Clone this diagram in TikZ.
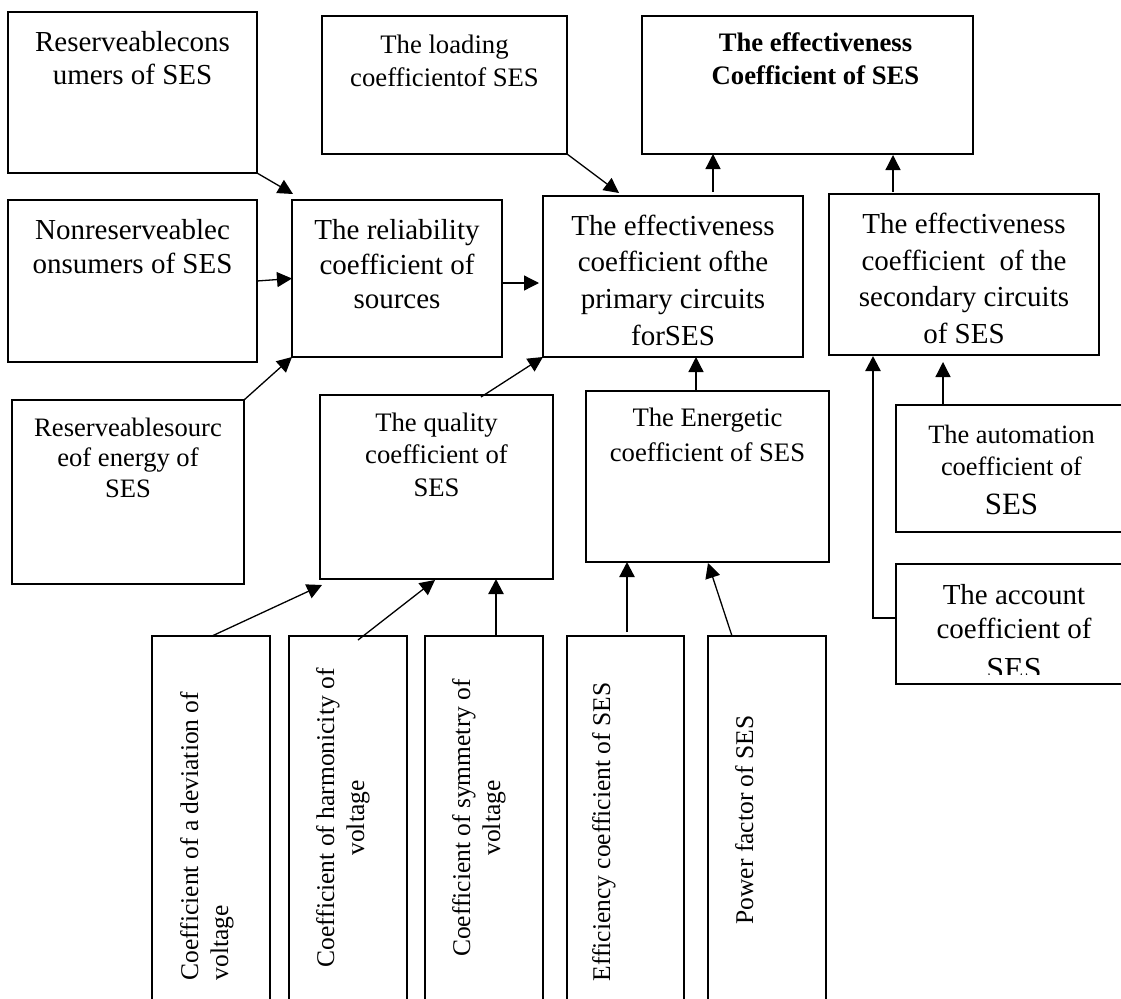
\documentclass[tikz,border=0pt]{standalone}
\usepackage{fontspec}
\setmainfont{Liberation Serif}
\usetikzlibrary{arrows.meta,calc}
\pgfdeclarelayer{edgelayer}
\pgfdeclarelayer{nodelayer}
\pgfsetlayers{edgelayer,nodelayer,main}
\tikzstyle{blk}=[draw=black, line width=1.7pt, anchor=north west, inner sep=0pt, outer sep=0pt]
\tikzstyle{lbl}=[anchor=north, inner sep=0pt, align=center]
\tikzstyle{vlbl}=[anchor=north, inner sep=0pt, rotate=90, font=\fontsize{25.5}{30}\selectfont]
\tikzstyle{link}=[draw=black, line width=1.3pt, -{Triangle[length=15pt,width=15pt]}]
\tikzstyle{boldlink}=[link, line width=2.3pt]

\begin{document}
\begin{tikzpicture}[x=1pt, y=-1pt]
				\useasboundingbox (0,0) rectangle (1121,998);
				\begin{pgfonlayer}{nodelayer}
					\node [blk, minimum width=249pt, minimum height=161pt] (rc) at (8,12) {};
					\node [blk, minimum width=245pt, minimum height=138pt] (load) at (322,16) {};
					\node [blk, minimum width=331pt, minimum height=138pt] (top) at (642,16) {};
					\node [blk, minimum width=249pt, minimum height=162pt] (nrc) at (8,200) {};
					\node [blk, minimum width=210pt, minimum height=157pt] (rel) at (292,200) {};
					\node [blk, minimum width=260pt, minimum height=161pt] (prim) at (543,196) {};
					\node [blk, minimum width=270pt, minimum height=161pt] (sec) at (829,194) {};
					\node [blk, minimum width=232pt, minimum height=184pt] (rs) at (12,400) {};
					\node [blk, minimum width=233pt, minimum height=184pt] (qual) at (320,395) {};
					\node [blk, minimum width=243pt, minimum height=171pt] (ener) at (586,391) {};
					\node [blk, minimum width=231pt, minimum height=127pt] (auto) at (896,405) {};
					\node [blk, minimum width=236pt, minimum height=120pt] (acc) at (896,564) {};
					\node [blk, minimum width=118pt, minimum height=400pt] (dev) at (152,636) {};
					\node [blk, minimum width=118pt, minimum height=400pt] (harm) at (289,636) {};
					\node [blk, minimum width=118pt, minimum height=400pt] (sym) at (425,636) {};
					\node [blk, minimum width=117pt, minimum height=400pt] (eff) at (567,636) {};
					\node [blk, minimum width=118pt, minimum height=400pt] (pf) at (708,636) {};
					% texts
					\node [lbl, font=\fontsize{29}{33.5}\selectfont] at ($(rc.north)+(0,19)$) {Reserveablecons\\umers of SES};
					\node [lbl, font=\fontsize{26.7}{33.3}\selectfont] at ($(load.north)+(0,18.5)$) {The loading\\coefficientof SES};
					\node [lbl, font=\fontsize{26.7}{33}\selectfont\bfseries] at ($(top.north)+(8,17)$) {The effectiveness\\Coefficient of SES};
					\node [lbl, font=\fontsize{29}{33.5}\selectfont] at ($(nrc.north)+(0,19.5)$) {Nonreserveablec\\onsumers of SES};
					\node [lbl, font=\fontsize{29}{34.5}\selectfont] at ($(rel.north)+(0,19.5)$) {The reliability\\coefficient of\\sources};
					\node [lbl, font=\fontsize{29}{36.8}\selectfont] at ($(prim.north)+(0,18.5)$) {The effectiveness\\coefficient ofthe\\primary circuits\\forSES};
					\node [lbl, font=\fontsize{29}{36.5}\selectfont] at ($(sec.north)+(0,19)$) {The effectiveness\\coefficient\ \ of the\\secondary circuits\\of SES};
					\node [lbl, font=\fontsize{26.6}{30.5}\selectfont] at ($(rs.north)+(0,17.8)$) {Reserveablesourc\\eof energy of\\SES};
					\node [lbl, font=\fontsize{26.7}{32.3}\selectfont] at ($(qual.north)+(0,17.8)$) {The quality\\coefficient of\\SES};
					\node [lbl, font=\fontsize{26.7}{35}\selectfont] at ($(ener.north)+(0,16.8)$) {The Energetic\\coefficient of SES};
					\node [lbl, font=\fontsize{26.4}{32}\selectfont] at ($(auto.north)+(0,19.5)$) {The automation\\coefficient of\\[7pt]{\fontsize{31}{37}\selectfont SES}};
					\begin{scope}
						\clip (acc.north west) rectangle ($(acc.south east)+(0,-10)$);
						\node [lbl, font=\fontsize{29}{33.4}\selectfont] at ($(acc.north)+(0,20.5)$) {The account\\coefficient of\\[8pt]{\fontsize{32}{38}\selectfont SES}};
					\end{scope}
					\node [vlbl, align=left] at ($(dev.north west)+(28,200)$) {Coefficient of a deviation of\\voltage};
					\node [vlbl, align=center] at ($(harm.north west)+(27,182)$) {Coefficient of harmonicity of\\voltage};
					\node [vlbl, align=center] at ($(sym.north west)+(27,182)$) {Coefficient of symmetry of\\voltage};
					\node [vlbl] at ($(eff.north west)+(25,196)$) {Efficiency coefficient of SES};
					\node [vlbl] at ($(pf.north west)+(27,184)$) {Power factor of SES};
				\end{pgfonlayer}
				\begin{pgfonlayer}{edgelayer}
					\draw [link] (rc.south east) -- ($(rel.north west)+(1,-6)$);
					\draw [link] (nrc.east) -- (rel.west);
					\draw [link] (rs.north east) -- (rel.south west);
					\draw [link] ($(rel.east)+(0,4.5)$) -- ($(prim.west)+(-4,6.5)$);
					\draw [link] (load.south east) -- ($(prim.north west)+(76,-3)$);
					\draw [link] ($(prim.north west)+(170,-4)$) -- ($(top.south west)+(71,0)$);
					\draw [link] ($(sec.north west)+(64,-2)$) -- ($(top.south west)+(251,1)$);
					\draw [link] ($(qual.north west)+(161,2)$) -- (prim.south west);
					\draw [link] ($(ener.north west)+(110,0)$) -- ($(prim.south west)+(153,0)$);
					\draw [link] ($(auto.north west)+(47,0)$) -- ($(sec.south west)+(114,7)$);
					\draw [boldlink] ($(acc.north west)+(0,54)$) -| ($(sec.south west)+(44,1)$);
					\draw [link] ($(dev.north west)+(60,0)$) -- ($(qual.south west)+(2,6)$);
					\draw [link] ($(harm.north west)+(69,4)$) -- ($(qual.south west)+(115,1)$);
					\draw [boldlink] ($(sym.north west)+(71,0)$) -- ($(qual.south west)+(176,0)$);
					\draw [boldlink] ($(eff.north west)+(60,-4)$) -- ($(ener.south west)+(41,0)$);
					\draw [link] ($(pf.north west)+(24,0)$) -- ($(ener.south west)+(122,1)$);
				\end{pgfonlayer}
			\end{tikzpicture}
\end{document}
